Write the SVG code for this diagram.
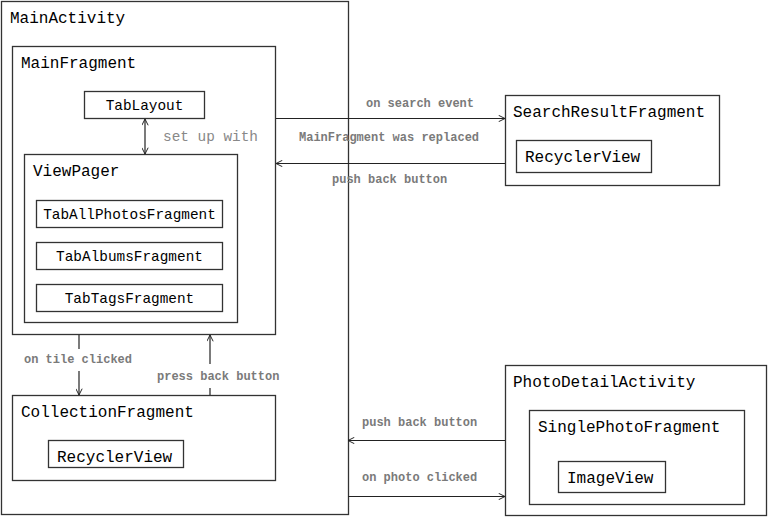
<svg xmlns="http://www.w3.org/2000/svg" width="769" height="517" viewBox="0 0 769 517">
<style>
.box{fill:none;stroke:#333;stroke-width:1.3}
.t{font-family:"Liberation Mono","DejaVu Sans Mono",monospace;font-size:16px;fill:#000}
.s{font-family:"Liberation Mono","DejaVu Sans Mono",monospace;font-size:14.4px;fill:#000;text-anchor:middle}
.lbl{font-family:"Liberation Mono","DejaVu Sans Mono",monospace;font-size:12px;font-weight:bold;fill:#7a7a7a}
.lbl2{font-family:"Liberation Mono","DejaVu Sans Mono",monospace;font-size:14.4px;fill:#888}
.c{fill:none;stroke:#222;stroke-width:1.2}
</style>
<defs>
<marker id="ah" viewBox="0 0 10 10" refX="10" refY="5" markerWidth="7" markerHeight="7" markerUnits="userSpaceOnUse" orient="auto-start-reverse">
<path d="M1,0.5 L10,5 L1,9.5" fill="none" stroke="#222" stroke-width="1.4"/>
</marker>
</defs>
<rect width="769" height="517" fill="#fff"/>
<g id="MainActivity">
<rect class="box" x="1.5" y="1.5" width="347" height="513"/>
<text class="t" x="10" y="23">MainActivity</text>
</g>
<g id="MainFragment">
<rect class="box" x="12.5" y="46.5" width="263" height="288"/>
<text class="t" x="21" y="68">MainFragment</text>
</g>
<g id="TabLayout">
<rect class="box" x="84.5" y="91.5" width="120" height="27"/>
<text class="s" x="144.5" y="110">TabLayout</text>
</g>
<g id="ViewPager">
<rect class="box" x="24.5" y="154.5" width="213" height="168"/>
<text class="t" x="33" y="176">ViewPager</text>
</g>
<g id="TabAllPhotosFragment">
<rect class="box" x="36.5" y="200.5" width="186" height="27"/>
<text class="s" x="129.5" y="219">TabAllPhotosFragment</text>
</g>
<g id="TabAlbumsFragment">
<rect class="box" x="36.5" y="242.5" width="186" height="27"/>
<text class="s" x="129.5" y="261">TabAlbumsFragment</text>
</g>
<g id="TabTagsFragment">
<rect class="box" x="36.5" y="284.5" width="186" height="27"/>
<text class="s" x="129.5" y="303">TabTagsFragment</text>
</g>
<g id="CollectionFragment">
<rect class="box" x="12.5" y="395.5" width="263" height="85"/>
<text class="t" x="21" y="417">CollectionFragment</text>
</g>
<g id="CollectionRecyclerView">
<rect class="box" x="48.5" y="440.5" width="135" height="27"/>
<text class="t" x="57" y="462">RecyclerView</text>
</g>
<g id="SearchResultFragment">
<rect class="box" x="505.5" y="95.5" width="214" height="90"/>
<text class="t" x="513" y="117">SearchResultFragment</text>
</g>
<g id="SearchRecyclerView">
<rect class="box" x="516.5" y="140.5" width="135" height="32"/>
<text class="t" x="525" y="162">RecyclerView</text>
</g>
<g id="PhotoDetailActivity">
<rect class="box" x="505.5" y="365.5" width="261" height="150"/>
<text class="t" x="513" y="387">PhotoDetailActivity</text>
</g>
<g id="SinglePhotoFragment">
<rect class="box" x="529.5" y="410.5" width="215" height="94"/>
<text class="t" x="538" y="432">SinglePhotoFragment</text>
</g>
<g id="ImageView">
<rect class="box" x="558.5" y="461.5" width="107" height="31"/>
<text class="t" x="567" y="483">ImageView</text>
</g>
<g id="connectors">
<line class="c" x1="145" y1="119" x2="145" y2="154" marker-start="url(#ah)" marker-end="url(#ah)"/>
<text class="lbl2" x="163" y="141">set up with</text>
<line class="c" x1="276" y1="118.5" x2="505" y2="118.5" marker-end="url(#ah)"/>
<text class="lbl" x="366" y="107">on search event</text>
<text class="lbl" x="299" y="141">MainFragment was replaced</text>
<line class="c" x1="505" y1="163.5" x2="276" y2="163.5" marker-end="url(#ah)"/>
<text class="lbl" x="332" y="183">push back button</text>
<line class="c" x1="79" y1="335" x2="79" y2="349"/>
<line class="c" x1="79" y1="371" x2="79" y2="395" marker-end="url(#ah)"/>
<text class="lbl" x="24" y="363">on tile clicked</text>
<line class="c" x1="210" y1="395" x2="210" y2="388"/>
<line class="c" x1="210" y1="364" x2="210" y2="335" marker-end="url(#ah)"/>
<text class="lbl" x="157" y="380">press back button</text>
<line class="c" x1="505" y1="440.5" x2="348" y2="440.5" marker-end="url(#ah)"/>
<text class="lbl" x="362" y="426">push back button</text>
<line class="c" x1="348" y1="496.5" x2="505" y2="496.5" marker-end="url(#ah)"/>
<text class="lbl" x="362" y="481">on photo clicked</text>
</g>
</svg>
